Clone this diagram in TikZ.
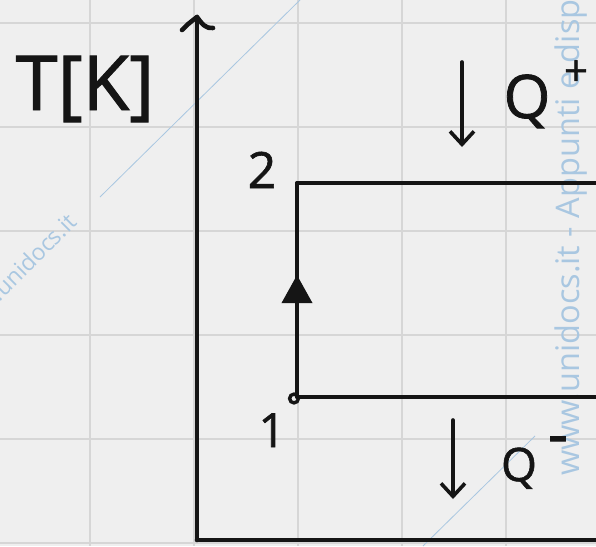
\documentclass[tikz,border=0pt]{standalone}
\usepackage{fontspec}
\setmainfont{Open Sans}
\newfontfamily\handfont[FakeBold=1.3]{Open Sans}
\usetikzlibrary{arrows.meta,decorations.markings}

\definecolor{paper}{HTML}{EFEFEF}
\definecolor{gridgray}{HTML}{D6D6D6}
\definecolor{ink}{HTML}{151515}
\definecolor{wmblue}{HTML}{A9C7E1}

\tikzset{
  gridline/.style={gridgray, line width=2pt},
  axisline/.style={ink, line width=4.6pt, line cap=round, line join=round},
  cycleline/.style={ink, line width=3.8pt, line cap=round, line join=round},
  heatarrow/.style={ink, line width=3.6pt, line cap=round, line join=round,
    -{Straight Barb[length=13pt, width=24pt, line width=3.6pt]}},
  upmark/.style={postaction={decorate}, decoration={markings,
    mark=at position 0.57 with {\arrow{Triangle[length=28pt, width=30pt]}}}},
  hand/.style={ink, inner sep=0pt, font=\handfont},
  wmtext/.style={wmblue, inner sep=0pt},
  wmline/.style={wmblue, line width=0.8pt}
}

\begin{document}
\begin{tikzpicture}[x=1pt, y=-1pt]
  % sheet of squared paper
  \fill[paper] (0,0) rectangle (596,546);
  \useasboundingbox (0,0) rectangle (596,546);
  \begin{scope}
    \clip (0,0) rectangle (596,546);
    \foreach \gx in {90,194,298,402,506} \draw[gridline] (\gx,0) -- (\gx,546);
    \foreach \gy in {23,127,231,335,439,543} \draw[gridline] (0,\gy) -- (596,\gy);

    % watermark
    \draw[wmline] (100,197) -- (300,0);
    \draw[wmline] (423,546) -- (535,436);
    \node[wmtext, rotate=90, anchor=base west] (wmv) at (579,476)
      {\fontsize{32.5}{32.5}\selectfont www.unidocs.it - Appunti e disp};
    \node[wmtext, rotate=45, anchor=base east] (wmd) at (78,224)
      {\fontsize{23}{23}\selectfont www.unidocs.it};
  \end{scope}

  % axes
  \coordinate (O) at (197,540);
  \coordinate (Ttop) at (197,17);
  \coordinate (Send) at (596,540);
  \draw[axisline] (O) -- (Ttop);
  \draw[axisline] (O) -- (Send);
  \draw[axisline] (182,30) .. controls (188,24) .. (Ttop) .. controls (202,24) and (206,29) .. (213,28);

  % states and the cycle
  \coordinate (p1) at (297,397);
  \coordinate (p2) at (297,183);
  \coordinate (r1) at (596,397);
  \coordinate (r2) at (596,183);
  \draw[cycleline, upmark] (p1) -- (p2);
  \draw[cycleline] (p2) -- (r2);
  \draw[cycleline] (p1) -- (r1);
  \draw[ink, line width=3.4pt] (294,398.5) circle (4.4pt);

  % labels
  \node[hand, anchor=base] (tk) at (85,110) {\fontsize{76}{76}\selectfont T[K]};
  \node[hand, anchor=base] (n2) at (262,188) {\fontsize{50}{50}\selectfont 2};
  \node[hand, anchor=base] (n1) at (272,447) {\fontsize{47}{47}\selectfont 1};

  % heat exchanged
  \coordinate (qa1) at (462,62);
  \coordinate (qa2) at (462,147);
  \draw[heatarrow] (qa1) -- (qa2);
  \node[hand, anchor=base] (qin) at (527,118) {\fontsize{60}{60}\selectfont Q};
  \node[hand] (qinsign) at (576,73) {\fontsize{42}{42}\selectfont +};

  \coordinate (qb1) at (453,420);
  \coordinate (qb2) at (453,499);
  \draw[heatarrow] (qb1) -- (qb2);
  \node[hand, anchor=base] (qout) at (519,481) {\fontsize{46}{46}\selectfont Q};
  \node[hand] (qoutsign) at (558,446) {\fontsize{62}{62}\selectfont -};
\end{tikzpicture}
\end{document}
